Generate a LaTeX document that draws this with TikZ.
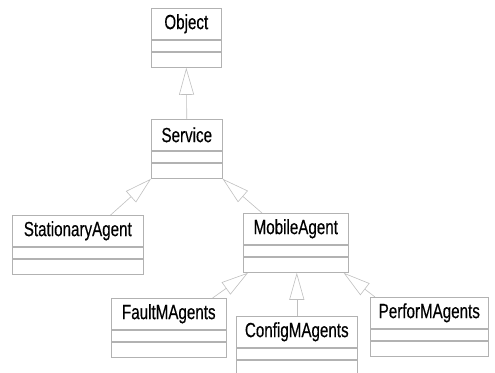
\documentclass[tikz,border=0pt]{standalone}
\usepackage{fontspec}
\setmainfont{Liberation Sans}[FakeStretch=0.74, FakeBold=0.35]
\usetikzlibrary{arrows.meta,positioning}
\tikzset{
  classname/.style={draw=gray!60, line width=0.6pt, anchor=north west, minimum height=31pt,
    inner sep=0pt, font=\fontsize{20.5}{24}\selectfont},
  classpart/.style={draw=gray!60, line width=0.6pt, inner sep=0pt, anchor=north},
  inherit/.style={draw=gray!50, line width=0.6pt, -{Triangle[open, length=27pt, width=15pt]}}
}
\begin{document}
\begin{tikzpicture}[x=1pt, y=-1pt]
  \useasboundingbox (0,0) rectangle (495,372);
  % classes: name / left / top / width / text
  \foreach \cname/\x/\y/\w/\txt in {object/151/8/70pt/Object, service/151/119/71pt/Service,
      stationary/12/215/131pt/StationaryAgent, mobile/243/213/105pt/MobileAgent,
      fault/111/298/115pt/FaultMAgents, config/236/316/121pt/ConfigMAgents,
      perfor/370/297/118pt/PerforMAgents} {
    \node[classname, minimum width=\w] (\cname) at (\x,\y) {\txt};
    \node[classpart, minimum width=\w, minimum height=11.5pt] (\cname-attr) at (\cname.south) {};
    \node[classpart, minimum width=\w, minimum height=15.5pt] (\cname-ops) at (\cname-attr.south) {};
  }
  % generalizations
  \draw[inherit] (service.north) -- (object-ops.south);
  \draw[inherit] ([xshift=-33pt]stationary.north east) -- (service-ops.south west);
  \draw[inherit] ([xshift=19pt]mobile.north west) -- (service-ops.south east);
  \draw[inherit] ([xshift=-14pt]fault.north east) -- ([xshift=5pt]mobile-ops.south west);
  \draw[inherit] (config.north) -- (config.north |- mobile-ops.south);
  \draw[inherit] ([xshift=5pt]perfor.north west) -- ([xshift=-5pt]mobile-ops.south east);
\end{tikzpicture}
\end{document}
